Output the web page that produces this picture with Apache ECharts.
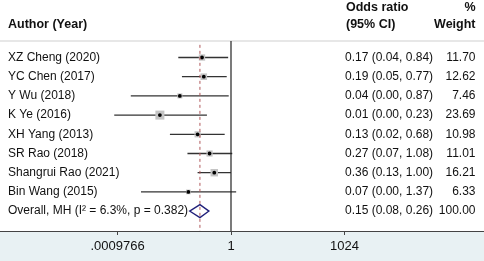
<!DOCTYPE html>
<html>
<head>
<meta charset="utf-8">
<script src="https://cdn.jsdelivr.net/npm/echarts@6/dist/echarts.min.js"></script>
<style>
  html, body { margin: 0; padding: 0; background: #fff; }
  #chart { width: 484px; height: 261px; }
</style>
</head>
<body>
<div id="chart"></div>
<script>
// studies
var authors = ['XZ Cheng (2020)', 'YC Chen (2017)', 'Y Wu (2018)', 'K Ye (2016)',
               'XH Yang (2013)', 'SR Rao (2018)', 'Shangrui Rao (2021)', 'Bin Wang (2015)'];
var oddsRatio = [0.17, 0.19, 0.044, 0.013, 0.13, 0.27, 0.36, 0.074];
var ciLower = [0.04, 0.05, 0.0022, 0.0008, 0.024, 0.07, 0.13, 0.0041];
var ciUpper = [0.84, 0.77, 0.87, 0.23, 0.68, 1.08, 1.00, 1.37];
var weights = [11.70, 12.62, 7.46, 23.69, 10.98, 11.01, 16.21, 6.33];

// pooled
var overallLabel = 'Overall, MH (I\u00B2 = 6.3%, p = 0.382)';
var overallOR = 0.15;
var overallLower = 0.08;
var overallUpper = 0.26;
var overallWeight = 100.00;

// x axis ticks
var tickValues = [Math.pow(2, -10), 1, 1024];
var tickLabels = ['.0009766', '1', '1024'];

var FONT = '12px "Liberation Sans", Arial, sans-serif';
var FONT_B = 'bold 12.5px "Liberation Sans", Arial, sans-serif';

var rowTop = -57.5 / 19.2;           // y value at top of grid
var rowBottom = rowTop + 231 / 19.2;
var headerY = rowTop + 41 / 19.2;

var studyData = [];
for (var i = 0; i < authors.length; i++) {
	studyData.push([i, oddsRatio[i], ciLower[i], ciUpper[i], weights[i]]);
}
var nRows = authors.length;

function fmtCI(est, lo, hi) {
	return est.toFixed(2) + ' (' + lo.toFixed(2) + ', ' + hi.toFixed(2) + ')';
}

function rowTexts(y, name, est, lo, hi, w) {
	return [{
		type: 'text', silent: true,
		style: { text: name, x: 8, y: y, font: FONT, fill: '#111', verticalAlign: 'middle', align: 'left' }
	}, {
		type: 'text', silent: true,
		style: { text: fmtCI(est, lo, hi), x: 345, y: y, font: FONT, fill: '#111', verticalAlign: 'middle', align: 'left' }
	}, {
		type: 'text', silent: true,
		style: { text: w.toFixed(2), x: 475.5, y: y, font: FONT, fill: '#111', verticalAlign: 'middle', align: 'right' }
	}];
}

function renderStudy(params, api) {
	var row = api.value(0);
	var est = api.value(1), lo = api.value(2), hi = api.value(3), w = api.value(4);
	var pEst = api.coord([est, row]);
	var pLo = api.coord([lo, row]);
	var pHi = api.coord([hi, row]);
	var side = 1.85 * Math.sqrt(w);
	var children = [{
		type: 'line',
		shape: { x1: pLo[0], y1: pEst[1], x2: pHi[0], y2: pEst[1] },
		style: { stroke: '#333', lineWidth: 1.3 }
	}, {
		type: 'rect',
		shape: { x: pEst[0] - side / 2, y: pEst[1] - side / 2, width: side, height: side },
		style: { fill: '#c4c4c4' }
	}, {
		type: 'circle',
		shape: { cx: pEst[0], cy: pEst[1], r: 1.9 },
		style: { fill: '#000' }
	}];
	return { type: 'group', children: children.concat(rowTexts(pEst[1], authors[row], est, lo, hi, w)) };
}

function renderOverall(params, api) {
	var row = api.value(0);
	var pEst = api.coord([api.value(1), row]);
	var pLo = api.coord([api.value(2), row]);
	var pHi = api.coord([api.value(3), row]);
	var h = 6.5;
	var children = [{
		type: 'polygon',
		shape: { points: [[pLo[0], pEst[1]], [pEst[0], pEst[1] - h], [pHi[0], pEst[1]], [pEst[0], pEst[1] + h]] },
		style: { fill: 'none', stroke: '#20207a', lineWidth: 1.3 }
	}];
	return { type: 'group', children: children.concat(rowTexts(pEst[1], overallLabel, api.value(1), api.value(2), api.value(3), api.value(4))) };
}

var chart = echarts.init(document.getElementById('chart'));
chart.setOption({
	backgroundColor: '#e8f1f3',
	animation: false,
	grid: {
		left: 0, right: 0, top: 0, bottom: 30,
		show: true, backgroundColor: '#fff', borderWidth: 0
	},
	xAxis: {
		type: 'log',
		logBase: 2,
		min: Math.pow(2, -231 / 11.35),
		max: Math.pow(2, 253 / 11.35),
		axisLine: { onZero: false, lineStyle: { color: '#444', width: 1 } },
		axisTick: { customValues: tickValues, length: 4, lineStyle: { color: '#444' } },
		axisLabel: {
			customValues: tickValues,
			margin: 9,
			color: '#111',
			fontSize: 13,
			fontFamily: '"Liberation Sans", Arial, sans-serif',
			formatter: function(v) {
				var best = 0;
				for (var k = 1; k < tickValues.length; k++) {
					if (Math.abs(Math.log(tickValues[k]) - Math.log(v)) < Math.abs(Math.log(tickValues[best]) - Math.log(v))) best = k;
				}
				return tickLabels[best];
			}
		},
		splitLine: { show: false }
	},
	yAxis: {
		type: 'value', inverse: true, show: false,
		min: rowTop, max: rowBottom
	},
	graphic: [{
		type: 'line', silent: true,
		shape: { x1: 0, y1: 41, x2: 484, y2: 41 },
		style: { stroke: '#cfcfcf', lineWidth: 1.2 }
	}, {
		type: 'text', silent: true,
		style: { text: 'Author (Year)', x: 8, y: 25, font: FONT_B, fill: '#111', verticalAlign: 'middle' }
	}, {
		type: 'text', silent: true,
		style: { text: 'Odds ratio', x: 346, y: 7.5, font: FONT_B, fill: '#111', verticalAlign: 'middle' }
	}, {
		type: 'text', silent: true,
		style: { text: '(95% CI)', x: 346, y: 24.5, font: FONT_B, fill: '#111', verticalAlign: 'middle' }
	}, {
		type: 'text', silent: true,
		style: { text: '%', x: 475.5, y: 7.5, font: FONT_B, fill: '#111', verticalAlign: 'middle', align: 'right' }
	}, {
		type: 'text', silent: true,
		style: { text: 'Weight', x: 475.5, y: 24.5, font: FONT_B, fill: '#111', verticalAlign: 'middle', align: 'right' }
	}],
	series: [{
		// null line
		type: 'line', symbol: 'none', silent: true,
		data: [[1, headerY], [1, rowBottom]],
		lineStyle: { color: '#222', width: 1.2 }
	}, {
		// pooled estimate line
		type: 'line', symbol: 'none', silent: true,
		data: [[overallOR, headerY + 0.2], [overallOR, rowBottom]],
		lineStyle: { color: '#b0585a', width: 1, type: [3, 3] }
	}, {
		type: 'custom',
		renderItem: renderStudy,
		data: studyData
	}, {
		type: 'custom',
		renderItem: renderOverall,
		data: [[nRows, overallOR, overallLower, overallUpper, overallWeight]]
	}]
});
</script>
</body>
</html>
